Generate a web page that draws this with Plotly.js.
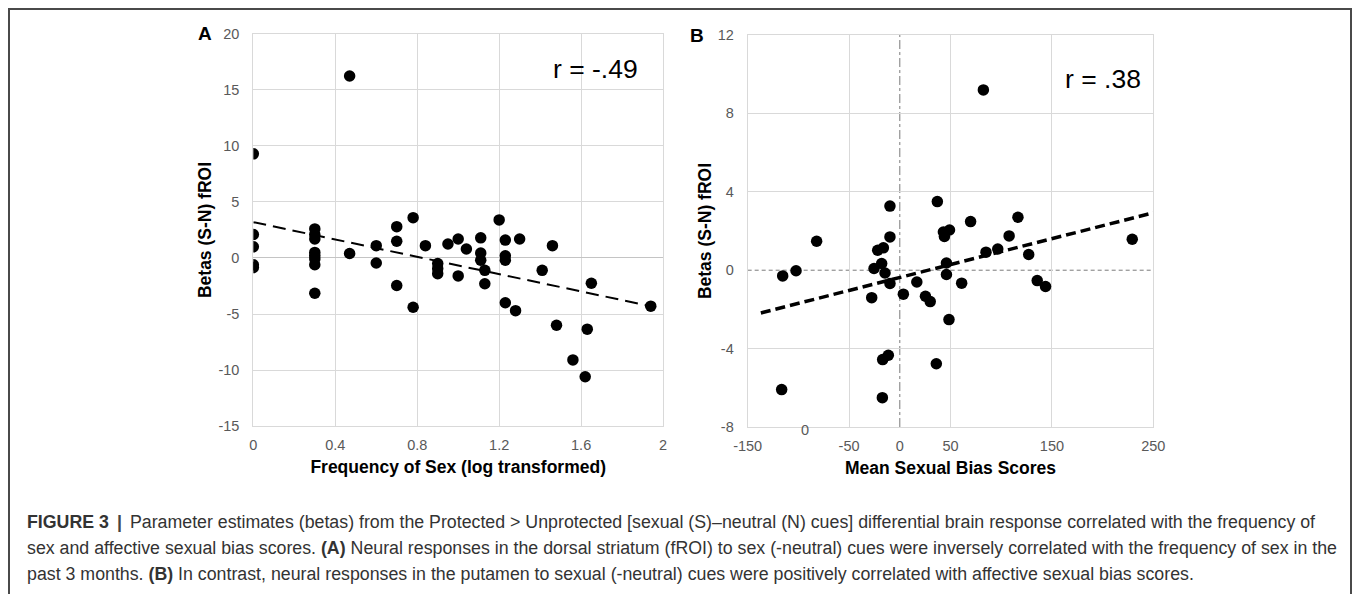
<!DOCTYPE html>
<html>
<head>
<meta charset="utf-8">
<script src="https://cdn.plot.ly/plotly-3.0.1.min.js"></script>
<style>
  html, body { margin: 0; padding: 0; background: #ffffff; }
  body { width: 1354px; height: 594px; position: relative; overflow: hidden; }
  #frame { position: absolute; left: 8px; top: 8px; width: 1344px; height: 600px; border: 2px solid #4a4a4a; box-sizing: border-box; }
  #chart { position: absolute; left: 0; top: 0; width: 1354px; height: 594px; }
  #caption { position: absolute; left: 27px; top: 509px; font-family: "Liberation Sans", Arial, sans-serif; color: #333333; font-size: 15.5px; }
  #caption div { white-space: nowrap; height: 26px; line-height: 26px; }
  .sep { color: #444; padding: 0 8px; font-weight: bold; }
</style>
</head>
<body>
<div id="frame"></div>
<div id="chart"></div>
<div id="caption">
  <div id="l1"><b>FIGURE 3</b><span class="sep">|</span>Parameter estimates (betas) from the Protected &gt; Unprotected [sexual (S)–neutral (N) cues] differential brain response correlated with the frequency of</div>
  <div id="l2">sex and affective sexual bias scores. <b>(A)</b> Neural responses in the dorsal striatum (fROI) to sex (-neutral) cues were inversely correlated with the frequency of sex in the</div>
  <div id="l3">past 3 months. <b>(B)</b> In contrast, neural responses in the putamen to sexual (-neutral) cues were positively correlated with affective sexual bias scores.</div>
</div>
<script>
// Panel A: frequency of sex (log transformed) vs betas
var freqSex = [0,0,0,0,0,
  0.3,0.3,0.3,0.3,0.3,0.3,0.3,0.3,
  0.47,0.47,
  0.6,0.6,
  0.7,0.7,0.7,
  0.78,0.78,
  0.84,
  0.9,0.9,0.9,
  0.95,
  1.0,1.0,
  1.04,
  1.11,1.11,1.11,
  1.13,1.13,
  1.2,
  1.23,1.23,1.23,1.23,
  1.28,1.3,1.41,1.46,1.48,1.56,1.62,1.63,1.65,1.94];
var betasA = [9.3,2.1,1.0,-0.6,-0.85,
  2.6,2.1,1.7,0.5,0.2,-0.1,-0.6,-3.15,
  16.25,0.4,
  1.1,-0.45,
  2.8,1.5,-2.45,
  3.6,-4.4,
  1.1,
  -0.5,-0.95,-1.4,
  1.25,
  1.7,-1.6,
  0.8,
  1.8,0.45,-0.2,
  -1.1,-2.3,
  3.4,
  1.6,0.2,-0.2,-4.0,
  -4.7,1.7,-1.1,1.1,-6.0,-9.1,-10.6,-6.35,-2.25,-4.3];
var trendAx = [0, 1.94];
var trendAy = [3.2, -4.3];

// Panel B: mean sexual bias scores vs betas
var biasScores = [82.4,-115.5,-102.3,-82,-116.5,-27.7,-25.4,-21.8,-16.2,-17.9,-14.6,-9.7,-9.7,-9.7,-16.9,-11.3,-17.2,
  3.5,16.8,25.3,30,37,36,43,49,44,46,46,48.5,61,69.8,85,96.6,107.8,116.5,127.1,135.5,143.7,229.2];
var betasB = [9.2,-0.29,-0.03,1.48,-6.09,-1.4,0.09,1.02,1.14,0.34,-0.14,3.27,1.7,-0.68,-4.56,-4.34,-6.5,
  -1.22,-0.6,-1.33,-1.6,3.5,-4.77,1.95,2.05,1.72,0.37,-0.22,-2.52,-0.66,2.48,0.92,1.08,1.75,2.7,0.8,-0.53,-0.83,1.58];
var trendBx = [-137, 250];
var trendBy = [-2.18, 2.93];

var ticksAx = [0, 0.4, 0.8, 1.2, 1.6, 2];
var ticksAxText = ['0', '0.4', '0.8', '1.2', '1.6', '2'];
var ticksAy = [-15, -10, -5, 0, 5, 10, 15, 20];
var ticksAyText = ['-15', '-10', '-5', '0', '5', '10', '15', '20'];
var ticksBx = [-150, -50, 0, 50, 150, 250];
var ticksBxText = ['-150', '-50', '0', '50', '150', '250'];
var ticksBy = [-8, -4, 0, 4, 8, 12];
var ticksByText = ['-8', '-4', '0', '4', '8', '12'];

var FONT = 'Liberation Sans, Arial, sans-serif';
var GRID = '#d9d9d9';
var TICKF = {family: FONT, size: 14.5, color: '#595959'};
var TITLEF = {family: FONT, size: 17.5, color: '#000000'};

var traces = [
  {x: trendAx, y: trendAy, xaxis: 'x', yaxis: 'y', mode: 'lines', type: 'scatter',
   line: {color: '#000000', width: 2, dash: '13px,7px'}, hoverinfo: 'skip'},
  {x: freqSex, y: betasA, xaxis: 'x', yaxis: 'y', mode: 'markers', type: 'scatter',
   marker: {color: '#000000', size: 11.5}},
  {x: trendBx, y: trendBy, xaxis: 'x2', yaxis: 'y2', mode: 'lines', type: 'scatter',
   line: {color: '#000000', width: 3.5, dash: '10px,5px'}, hoverinfo: 'skip'},
  {x: biasScores, y: betasB, xaxis: 'x2', yaxis: 'y2', mode: 'markers', type: 'scatter',
   marker: {color: '#000000', size: 11.5}}
];

function axisBase() {
  return {showgrid: true, gridcolor: GRID, gridwidth: 1, showline: true, linecolor: GRID, linewidth: 1,
          mirror: true, ticks: '', tickfont: TICKF, fixedrange: true, automargin: false};
}

var xa = Object.assign(axisBase(), {domain: [0.1871, 0.4897], range: [0, 2], tickmode: 'array',
  tickvals: ticksAx, ticktext: ticksAxText, zeroline: false, anchor: 'y', ticklabelstandoff: 6,
  title: {text: '<b>Frequency of Sex (log transformed)</b>', font: TITLEF, standoff: 8}});
var ya = Object.assign(axisBase(), {domain: [0.2828, 0.9428], range: [-15, 20], tickmode: 'array',
  tickvals: ticksAy, ticktext: ticksAyText, zeroline: true, zerolinecolor: '#c4c4c4', zerolinewidth: 1, anchor: 'x', ticklabelstandoff: 10,
  title: {text: '<b>Betas (S-N) fROI</b>', font: TITLEF, standoff: 2}});
var xb = Object.assign(axisBase(), {domain: [0.5522, 0.8518], range: [-150, 250], tickmode: 'array',
  tickvals: ticksBx, ticktext: ticksBxText, zeroline: true, zerolinecolor: 'rgba(0,0,0,0)', anchor: 'y2', ticklabelstandoff: 6,
  title: {text: '<b>Mean Sexual Bias Scores</b>', font: TITLEF, standoff: 8}});
var yb = Object.assign(axisBase(), {domain: [0.2811, 0.9411], range: [-8, 12], tickmode: 'array',
  tickvals: ticksBy, ticktext: ticksByText, zeroline: true, zerolinecolor: 'rgba(0,0,0,0)', anchor: 'x2', ticklabelstandoff: 10,
  title: {text: '<b>Betas (S-N) fROI</b>', font: TITLEF, standoff: 1}});

var layout = {
  width: 1354, height: 594,
  margin: {l: 0, r: 0, t: 0, b: 0, pad: 0},
  paper_bgcolor: 'rgba(0,0,0,0)', plot_bgcolor: 'rgba(0,0,0,0)',
  showlegend: false,
  font: {family: FONT},
  xaxis: xa, yaxis: ya, xaxis2: xb, yaxis2: yb,
  shapes: [
    {type: 'line', xref: 'x2', yref: 'y2', x0: -150, x1: 250, y0: 0, y1: 0,
     line: {color: '#7a7a7a', width: 1, dash: '4px,3px'}, layer: 'below'},
    {type: 'line', xref: 'x2', yref: 'y2', x0: 0, x1: 0, y0: -8, y1: 12,
     line: {color: '#7a7a7a', width: 1, dash: 'dashdot'}, layer: 'below'}
  ],
  annotations: [
    {text: '<b>A</b>', xref: 'paper', yref: 'paper', x: 205 / 1354, y: 1 - 34 / 594, showarrow: false,
     xanchor: 'center', yanchor: 'middle', font: {family: FONT, size: 19, color: '#000'}},
    {text: '<b>B</b>', xref: 'paper', yref: 'paper', x: 697 / 1354, y: 1 - 35 / 594, showarrow: false,
     xanchor: 'center', yanchor: 'middle', font: {family: FONT, size: 19, color: '#000'}},
    {text: 'r = -.49', xref: 'paper', yref: 'paper', x: 595 / 1354, y: 1 - 69 / 594, showarrow: false,
     xanchor: 'center', yanchor: 'middle', font: {family: FONT, size: 26.5, color: '#000'}},
    {text: 'r = .38', xref: 'paper', yref: 'paper', x: 1103 / 1354, y: 1 - 79 / 594, showarrow: false,
     xanchor: 'center', yanchor: 'middle', font: {family: FONT, size: 26.5, color: '#000'}},
    {text: '0', xref: 'x2', yref: 'paper', x: -93, y: 1 - 430 / 594, showarrow: false,
     xanchor: 'center', yanchor: 'middle', font: TICKF}
  ]
};

Plotly.newPlot('chart', traces, layout, {staticPlot: true, displayModeBar: false});

// fit caption lines to the measured widths of the reference
(function () {
  var l2 = document.getElementById('l2');
  var w = l2.getBoundingClientRect().width;
  var target = 1310;
  var cap = document.getElementById('caption');
  var fs = 15.5 * target / w;
  cap.style.fontSize = fs.toFixed(2) + 'px';
})();
</script>
</body>
</html>
